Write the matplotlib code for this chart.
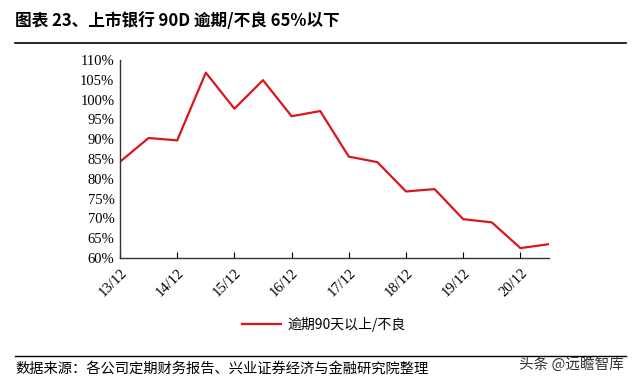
import matplotlib
matplotlib.use('agg')
import matplotlib.pyplot as plt
import numpy as np
from matplotlib.ticker import PercentFormatter

plt.rcParams['font.family'] = ['Liberation Serif', 'Noto Sans CJK SC']

# semiannual points, 13/12 through 21/06
periods = ['13/12', '14/06', '14/12', '15/06', '15/12', '16/06', '16/12', '17/06',
           '17/12', '18/06', '18/12', '19/06', '19/12', '20/06', '20/12', '21/06']
ratio = [84.3, 90.3, 89.7, 106.8, 97.7, 104.9, 95.8, 97.1,
         85.6, 84.2, 76.8, 77.4, 69.8, 69.0, 62.5, 63.5]
tick_labels = ['13/12', '14/12', '15/12', '16/12', '17/12', '18/12', '19/12', '20/12']

fig = plt.figure(figsize=(6.4, 3.82), dpi=100)
ax = fig.add_axes([0.1875, 0.3246, 0.6703, 0.5184])

x = np.arange(len(periods))
ax.plot(x, ratio, color='#d9161c', lw=1.6, label='逾期90天以上/不良')

ax.set_xlim(0, len(periods) - 1)
ax.set_ylim(60, 110)
ax.set_yticks(np.arange(60, 111, 5))
ax.yaxis.set_major_formatter(PercentFormatter(decimals=0))
ax.set_xticks(x[::2])
ax.set_xticklabels(tick_labels, rotation=45, ha='right', rotation_mode='anchor')

ax.spines['top'].set_visible(False)
ax.spines['right'].set_visible(False)
for s in ['left', 'bottom']:
    ax.spines[s].set_color('#333333')
    ax.spines[s].set_linewidth(1.0)
ax.tick_params(axis='y', length=0, labelsize=10.5, pad=4)
ax.tick_params(axis='x', direction='in', length=4, labelsize=10.5, pad=6)

ax.legend(loc='center', bbox_to_anchor=(0.475, -0.335), frameon=False,
          handlelength=2.8, handletextpad=0.4,
          prop={'family': ['Noto Sans CJK SC'], 'size': 10})

# title and rules
fig.text(0.024, 0.945, '图表 23、上市银行 90D 逾期/不良 65%以下', fontsize=12, fontweight='bold',
         family=['Noto Sans CJK SC'], va='center')
fig.add_artist(plt.Line2D([0.023, 0.978], [0.887, 0.887], color='black', lw=1.2))
fig.add_artist(plt.Line2D([0.023, 0.978], [0.068, 0.068], color='black', lw=1.0))
fig.text(0.024, 0.036, '数据来源：各公司定期财务报告、兴业证券经济与金融研究院整理', fontsize=10.3,
         family=['Noto Sans CJK SC'], va='center')
fig.text(0.975, 0.045, '头条 @远瞻智库', fontsize=10.5, color='#333333',
         family=['Noto Sans CJK SC'], va='center', ha='right')

fig.savefig('out.png', dpi=100)
